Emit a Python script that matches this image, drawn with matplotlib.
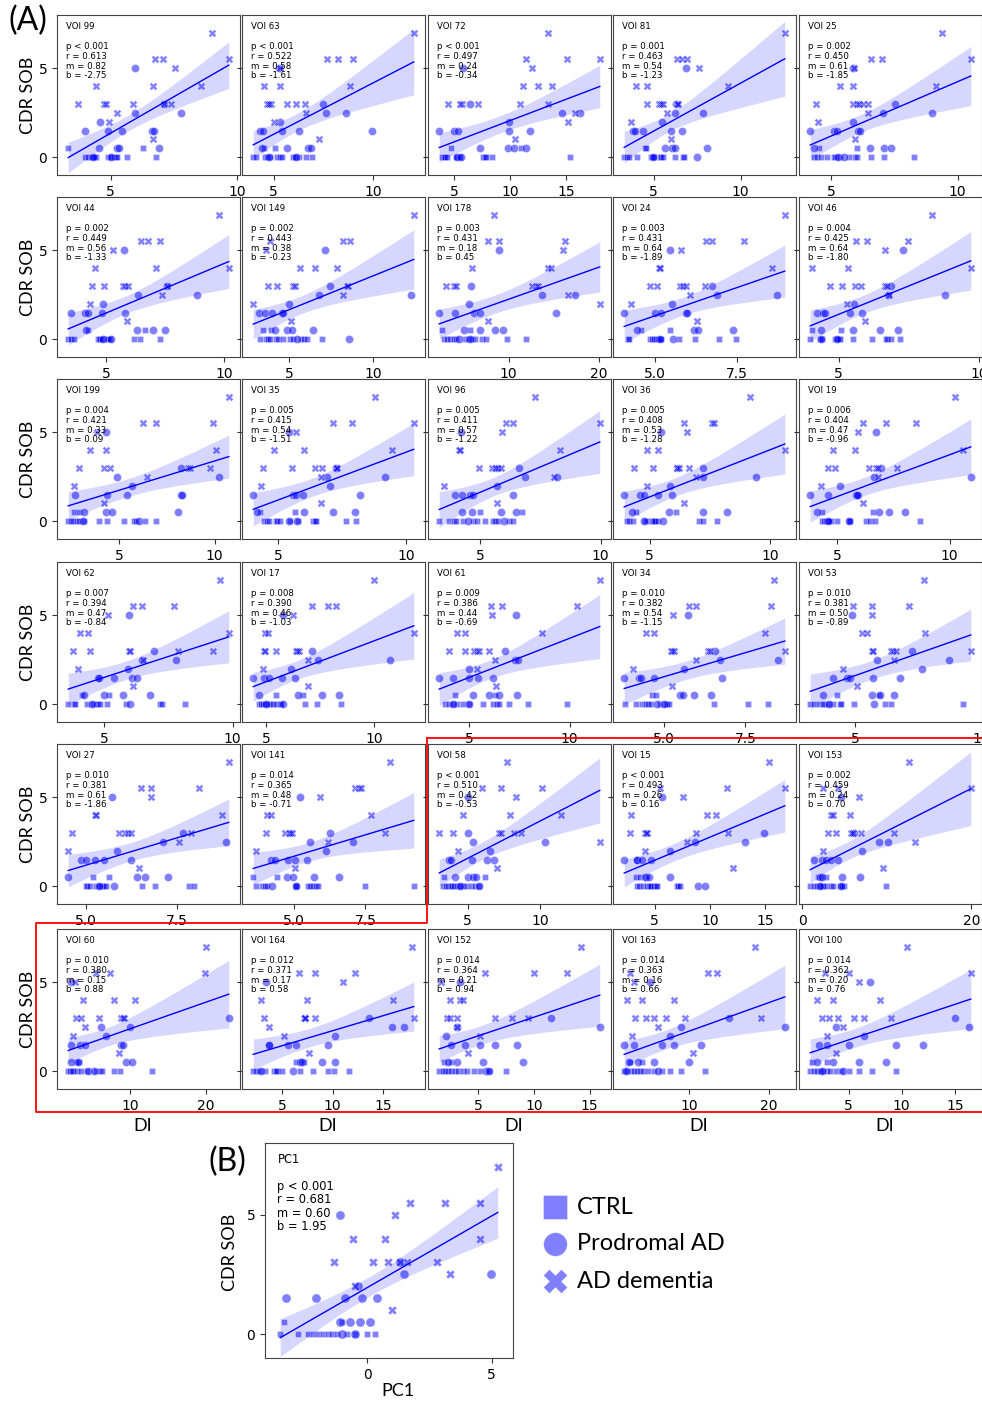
import numpy as np
import matplotlib.pyplot as plt
from matplotlib.ticker import MaxNLocator
from matplotlib.lines import Line2D

# CDR SOB of the subjects, same for every panel
y_ad = [7, 5.5, 5.5, 5.5, 5, 4, 4, 4, 3, 3, 3, 3, 3, 3, 2.5, 2, 1]
y_pro = [5, 3, 2.5, 2.5, 2, 1.5, 1.5, 1.5, 1.5, 1.5, 0.5, 0.5, 0.5, 0.5, 0, 0]
y_ctrl = [0.5, 0.5, 0, 0, 0, 0, 0, 0, 0, 0, 0, 0, 0, 0, 0]

voi = [99, 63, 72, 81, 25, 44, 149, 178, 24, 46, 199, 35, 96, 36, 19,
       62, 17, 61, 34, 53, 27, 141, 58, 15, 153, 60, 164, 152, 163, 100]
p_txt = ["< 0.001", "< 0.001", "< 0.001", "= 0.001", "= 0.002", "= 0.002", "= 0.002", "= 0.003",
         "= 0.003", "= 0.004", "= 0.004", "= 0.005", "= 0.005", "= 0.005", "= 0.006", "= 0.007",
         "= 0.008", "= 0.009", "= 0.010", "= 0.010", "= 0.010", "= 0.014", "< 0.001", "< 0.001",
         "= 0.002", "= 0.010", "= 0.012", "= 0.014", "= 0.014", "= 0.014"]
r_vals = [0.613, 0.522, 0.497, 0.463, 0.450, 0.449, 0.443, 0.431, 0.431, 0.425, 0.421, 0.415,
          0.411, 0.408, 0.404, 0.394, 0.390, 0.386, 0.382, 0.381, 0.381, 0.365, 0.510, 0.493,
          0.459, 0.380, 0.371, 0.364, 0.363, 0.362]
m_vals = [0.82, 0.58, 0.24, 0.54, 0.61, 0.56, 0.38, 0.18, 0.64, 0.64, 0.33, 0.54, 0.57, 0.53,
          0.47, 0.47, 0.46, 0.44, 0.54, 0.50, 0.61, 0.48, 0.42, 0.26, 0.24, 0.15, 0.17, 0.21,
          0.16, 0.20]
b_vals = [-2.75, -1.61, -0.34, -1.23, -1.85, -1.33, -0.23, 0.45, -1.89, -1.80, 0.09, -1.51,
          -1.22, -1.28, -0.96, -0.84, -1.03, -0.69, -1.15, -0.89, -1.86, -0.71, -0.53, 0.16,
          0.70, 0.88, 0.58, 0.94, 0.66, 0.76]

# DI of each VOI, per group (same subject order as the y lists)
x_ad = [
    [9.0, 6.77, 7.09, 9.67, 7.53, 4.43, 6.69, 8.57, 3.73, 4.73, 4.84, 5.87, 7.13, 7.37, 5.24, 4.95, 6.69],
    [12.02, 7.67, 8.23, 8.97, 5.33, 4.51, 5.3, 8.85, 4.67, 4.89, 5.69, 6.11, 6.56, 4.78, 6.64, 5.03, 7.26],
    [13.43, 11.45, 15.09, 18.0, 11.98, 11.19, 12.47, 13.78, 4.48, 5.73, 7.18, 10.87, 13.43, 5.5, 15.8, 15.17, 10.44],
    [12.53, 6.35, 6.63, 6.91, 7.62, 3.97, 4.63, 9.25, 4.63, 5.28, 5.41, 5.56, 6.35, 6.39, 5.79, 3.69, 6.01],
    [9.38, 6.55, 7.0, 10.52, 5.9, 5.32, 5.87, 9.16, 4.38, 5.87, 6.0, 6.1, 6.25, 6.45, 6.45, 4.47, 5.93],
    [9.77, 6.48, 6.78, 7.27, 5.3, 4.52, 7.1, 10.18, 4.41, 4.93, 5.72, 5.79, 5.93, 7.58, 7.38, 4.31, 5.9],
    [12.41, 3.86, 8.18, 8.63, 3.63, 5.65, 6.51, 7.84, 3.73, 4.25, 5.24, 5.35, 8.43, 8.5, 8.2, 2.84, 5.1],
    [8.37, 7.72, 8.9, 16.2, 15.98, 5.9, 14.35, 14.7, 3.04, 3.91, 4.2, 12.6, 13.04, 13.2, 16.6, 20.1, 7.72],
    [8.94, 6.56, 6.74, 7.7, 5.79, 5.12, 5.17, 8.56, 4.85, 5.07, 5.76, 5.85, 5.94, 6.51, 6.06, 4.28, 6.29],
    [8.33, 5.63, 6.01, 7.48, 6.64, 4.07, 5.33, 9.7, 4.7, 5.12, 5.6, 5.81, 6.64, 6.73, 6.79, 5.3, 5.93],
    [10.74, 6.28, 6.92, 9.91, 3.84, 3.49, 4.32, 10.09, 2.89, 4.23, 4.52, 8.6, 8.7, 9.74, 6.49, 2.67, 4.23],
    [8.79, 7.13, 7.9, 10.29, 5.69, 4.83, 6.02, 9.43, 4.41, 5.54, 6.43, 6.71, 7.28, 7.32, 6.68, 4.36, 6.68],
    [7.28, 6.08, 6.38, 9.96, 5.9, 4.1, 4.15, 8.3, 4.93, 5.47, 5.6, 5.67, 5.74, 5.88, 8.05, 3.5, 5.7],
    [9.16, 6.42, 7.59, 7.68, 6.53, 4.89, 5.34, 10.61, 4.35, 5.14, 6.12, 6.14, 6.2, 6.62, 6.93, 4.89, 6.43],
    [10.26, 6.16, 7.17, 8.52, 5.94, 4.81, 5.8, 10.58, 4.59, 4.88, 6.41, 6.74, 6.8, 7.68, 6.81, 4.28, 6.13],
    [9.52, 6.11, 6.49, 7.73, 5.13, 4.07, 4.36, 9.85, 3.79, 4.45, 5.96, 6.0, 7.86, 9.23, 6.53, 3.98, 6.11],
    [10.0, 7.13, 7.85, 8.23, 6.22, 4.92, 5.08, 11.83, 4.9, 4.95, 5.43, 6.37, 6.4, 6.52, 6.91, 4.82, 6.91],
    [11.5, 6.1, 6.64, 10.37, 6.15, 4.4, 4.76, 8.64, 3.98, 4.76, 5.25, 5.4, 5.5, 6.0, 6.3, 5.4, 6.34],
    [8.39, 5.77, 5.99, 8.29, 5.26, 4.43, 4.68, 8.1, 5.21, 5.25, 5.3, 6.34, 6.4, 8.71, 5.97, 4.05, 5.24],
    [7.73, 4.91, 5.67, 7.12, 5.67, 5.27, 5.47, 7.78, 5.67, 5.71, 6.41, 6.5, 6.61, 9.57, 6.55, 4.53, 5.07],
    [8.94, 6.52, 6.79, 8.12, 6.79, 5.25, 5.27, 8.75, 4.61, 5.91, 6.07, 6.15, 6.23, 7.89, 7.55, 4.5, 6.45],
    [8.36, 7.15, 7.27, 7.33, 5.89, 4.04, 4.18, 7.71, 4.01, 4.68, 4.8, 4.85, 4.91, 8.19, 6.18, 3.66, 5.02],
    [7.7, 6.0, 7.3, 10.1, 8.3, 4.66, 7.9, 11.4, 3.04, 4.0, 7.15, 7.3, 8.2, 8.7, 14.1, 4.3, 7.0],
    [15.39, 5.5, 11.53, 16.78, 7.52, 2.89, 9.75, 10.55, 2.74, 4.08, 4.2, 4.32, 8.71, 11.68, 7.94, 4.08, 12.09],
    [12.62, 2.5, 4.23, 19.92, 6.73, 3.46, 3.65, 5.69, 3.0, 3.96, 5.77, 5.96, 7.0, 10.88, 13.38, 2.42, 9.5],
    [20.0, 5.58, 7.45, 19.87, 2.77, 3.85, 7.97, 10.69, 2.9, 3.64, 5.89, 8.83, 9.13, 9.3, 4.07, 2.47, 8.61],
    [17.82, 6.67, 8.21, 12.18, 11.06, 2.92, 7.47, 15.9, 3.24, 7.15, 7.24, 7.3, 8.27, 17.98, 3.78, 5.22, 7.63],
    [14.2, 5.6, 13.0, 10.0, 1.7, 2.5, 3.4, 3.6, 2.2, 2.5, 3.05, 6.5, 8.0, 9.5, 3.1, 5.2, 4.1],
    [18.2, 2.5, 12.4, 13.5, 3.0, 2.2, 4.0, 8.0, 3.2, 4.5, 5.5, 7.0, 9.5, 19.0, 6.0, 2.8, 10.5],
    [10.5, 2.8, 5.0, 16.5, 6.0, 2.0, 3.5, 8.0, 2.5, 3.2, 4.0, 5.5, 6.5, 9.0, 4.5, 3.0, 3.8],
]
x_pro = [
    [5.96, 7.13, 5.96, 7.77, 4.6, 4.0, 4.89, 5.47, 6.63, 6.73, 4.53, 5.27, 5.33, 6.93, 4.3, 5.0],
    [5.25, 7.46, 7.62, 8.61, 5.33, 4.34, 4.48, 5.41, 6.28, 9.95, 4.43, 5.66, 6.72, 6.89, 4.75, 6.11],
    [5.81, 6.4, 14.6, 16.28, 9.88, 3.69, 5.0, 5.35, 9.88, 11.74, 7.33, 9.8, 10.38, 11.4, 5.29, 5.64],
    [6.87, 6.3, 6.25, 7.81, 5.47, 3.82, 3.95, 4.38, 6.01, 6.63, 5.66, 6.07, 6.25, 8.07, 4.94, 7.51],
    [5.87, 7.52, 7.03, 8.97, 5.87, 4.16, 5.09, 5.22, 6.06, 6.15, 4.32, 6.51, 7.09, 7.35, 5.26, 5.48],
    [5.76, 7.58, 6.34, 8.85, 4.89, 3.54, 4.13, 4.23, 4.82, 5.79, 4.17, 6.3, 6.99, 7.51, 4.89, 5.23],
    [7.12, 7.41, 6.76, 12.25, 4.96, 3.18, 3.53, 3.98, 4.57, 4.6, 4.12, 4.84, 5.16, 6.41, 5.45, 8.53],
    [8.9, 5.87, 13.7, 17.4, 5.55, 2.3, 4.0, 6.1, 6.85, 15.2, 5.0, 6.8, 8.5, 9.35, 4.45, 5.76],
    [5.47, 6.74, 6.88, 8.72, 5.52, 4.08, 5.02, 5.19, 5.96, 5.98, 4.47, 6.18, 6.31, 7.37, 5.15, 5.55],
    [7.29, 6.85, 6.76, 8.79, 5.56, 4.23, 4.44, 4.5, 5.42, 5.83, 4.38, 5.51, 6.46, 7.12, 4.38, 4.94],
    [4.32, 8.25, 4.91, 10.22, 5.68, 2.72, 4.4, 5.43, 8.25, 8.29, 3.15, 4.32, 4.66, 8.08, 3.12, 6.03],
    [5.45, 7.26, 6.91, 9.17, 7.03, 4.04, 5.57, 5.7, 5.98, 8.19, 4.17, 6.02, 7.16, 8.02, 5.45, 5.73],
    [4.19, 6.59, 6.87, 8.2, 5.7, 3.94, 4.26, 4.59, 4.7, 6.38, 4.26, 4.67, 5.85, 6.5, 4.5, 6.0],
    [5.46, 7.23, 7.21, 9.41, 5.84, 3.94, 4.58, 4.78, 5.34, 5.94, 4.25, 5.82, 7.22, 8.2, 4.78, 5.57],
    [6.71, 6.96, 6.62, 10.94, 5.12, 3.8, 4.59, 5.84, 5.91, 5.87, 4.09, 6.88, 7.32, 8.01, 4.61, 5.51],
    [5.96, 6.94, 6.47, 7.79, 5.94, 4.74, 4.81, 5.37, 6.08, 6.28, 4.2, 5.0, 5.75, 6.79, 4.52, 6.02],
    [5.76, 7.13, 7.41, 10.72, 6.14, 4.39, 4.89, 5.12, 5.73, 6.34, 4.65, 6.45, 7.56, 8.38, 5.0, 5.79],
    [7.33, 6.8, 7.3, 7.45, 5.0, 3.5, 4.17, 5.0, 5.45, 6.2, 5.2, 6.0, 6.5, 7.4, 4.2, 5.0],
    [5.74, 6.55, 6.71, 8.51, 5.61, 3.77, 4.22, 4.29, 4.7, 6.79, 5.5, 5.58, 5.93, 6.44, 4.78, 4.98],
    [4.89, 7.26, 5.87, 8.7, 7.66, 4.13, 4.7, 4.8, 5.7, 6.77, 3.72, 5.65, 5.97, 6.52, 3.99, 5.74],
    [5.7, 7.68, 7.12, 8.85, 5.84, 4.85, 5.0, 5.23, 5.5, 6.23, 4.5, 6.41, 6.61, 7.25, 5.36, 5.77],
    [5.2, 6.27, 5.54, 7.06, 6.12, 4.18, 4.33, 4.79, 5.02, 5.46, 4.74, 4.97, 5.71, 6.58, 4.22, 5.06],
    [5.0, 5.0, 5.4, 10.3, 6.55, 3.7, 3.85, 5.27, 6.3, 6.8, 4.1, 5.0, 5.4, 5.6, 4.5, 5.75],
    [5.65, 14.91, 8.62, 13.22, 6.39, 2.24, 3.37, 3.43, 3.87, 4.7, 4.08, 4.17, 4.47, 6.39, 8.92, 9.6],
    [4.54, 6.08, 9.04, 10.19, 7.04, 1.46, 2.31, 2.88, 3.46, 4.23, 2.1, 2.31, 4.69, 6.81, 2.1, 4.54],
    [2.25, 23.03, 6.23, 10.04, 6.88, 2.21, 3.42, 4.07, 8.83, 9.13, 2.25, 3.2, 9.48, 10.35, 4.5, 5.24],
    [3.4, 13.62, 15.8, 16.99, 10.19, 3.69, 3.75, 5.61, 6.41, 9.49, 6.83, 6.99, 8.91, 10.26, 2.98, 6.12],
    [3.4, 11.5, 3.05, 15.9, 2.1, 2.6, 3.8, 5.2, 6.5, 8.5, 2.3, 3.05, 5.45, 9.0, 5.7, 6.0],
    [5.0, 15.0, 9.0, 22.0, 7.5, 1.8, 3.0, 6.5, 8.0, 11.5, 2.4, 3.5, 5.5, 10.0, 2.0, 6.0],
    [7.0, 15.0, 3.8, 16.3, 6.5, 2.2, 3.0, 5.0, 9.5, 12.0, 2.0, 3.5, 6.0, 8.5, 2.5, 4.5],
]
x_ctrl = [
    [3.33, 6.27, 4.0, 4.13, 4.22, 4.31, 4.44, 4.89, 5.0, 5.13, 5.2, 5.27, 5.64, 6.8, 4.4],
    [4.54, 5.05, 3.98, 4.1, 4.59, 4.67, 4.8, 5.16, 5.3, 5.41, 5.98, 6.07, 6.28, 6.64, 6.93],
    [4.77, 10.96, 3.98, 4.13, 4.2, 4.36, 5.15, 5.29, 5.44, 5.58, 7.62, 7.76, 7.9, 8.4, 15.38],
    [4.53, 4.57, 3.31, 3.44, 3.58, 4.06, 4.85, 4.94, 5.04, 5.37, 5.41, 5.56, 6.2, 6.69, 6.76],
    [4.51, 6.0, 4.32, 4.44, 4.57, 4.83, 5.09, 5.16, 5.35, 5.71, 5.93, 6.0, 6.58, 7.09, 8.29],
    [4.23, 6.66, 3.41, 3.51, 3.65, 4.68, 4.72, 4.75, 4.82, 5.03, 5.1, 5.17, 6.2, 6.44, 7.28],
    [3.43, 3.92, 3.27, 3.63, 3.73, 3.86, 4.18, 4.31, 4.61, 5.04, 5.2, 5.69, 5.88, 6.02, 6.96],
    [2.6, 5.76, 2.8, 3.15, 3.5, 3.9, 4.2, 5.2, 5.5, 5.9, 6.3, 7.0, 7.5, 9.8, 11.96],
    [4.59, 5.47, 4.18, 4.23, 4.87, 4.92, 4.97, 5.05, 5.1, 5.15, 5.2, 5.74, 6.21, 6.95, 7.45],
    [4.07, 5.1, 3.99, 4.35, 4.4, 4.88, 4.94, 5.0, 5.04, 5.5, 6.19, 6.67, 6.73, 6.88, 7.17],
    [2.67, 2.89, 2.35, 2.5, 2.6, 2.8, 2.89, 3.15, 3.97, 4.35, 5.24, 5.8, 5.89, 6.35, 6.92],
    [4.3, 5.66, 4.45, 4.58, 4.64, 4.94, 4.96, 5.09, 5.47, 5.79, 6.36, 6.43, 6.49, 7.67, 8.06],
    [5.0, 6.75, 3.3, 3.7, 3.9, 4.0, 4.7, 4.85, 5.2, 5.55, 5.6, 5.74, 6.2, 6.35, 4.3],
    [4.44, 6.09, 4.07, 4.14, 4.31, 4.82, 4.89, 5.1, 5.14, 5.16, 5.23, 5.34, 7.04, 7.23, 7.79],
    [4.32, 6.59, 4.32, 4.42, 4.49, 4.57, 4.64, 4.71, 4.97, 5.51, 5.58, 6.3, 6.45, 6.67, 8.67],
    [4.13, 5.19, 3.6, 3.84, 3.88, 4.35, 4.58, 4.67, 4.77, 4.83, 5.09, 5.83, 7.19, 7.26, 8.15],
    [5.43, 6.71, 4.66, 4.77, 4.85, 4.92, 5.08, 5.18, 5.3, 5.46, 5.61, 5.69, 6.8, 7.36, 8.48],
    [4.27, 6.3, 3.8, 4.0, 4.2, 4.4, 4.66, 5.0, 5.7, 6.2, 6.36, 6.5, 7.0, 7.9, 9.86],
    [4.63, 4.76, 3.79, 4.12, 4.32, 4.43, 4.5, 4.6, 4.88, 5.06, 5.1, 5.16, 6.54, 7.58, 8.19],
    [4.29, 5.94, 3.23, 3.39, 3.59, 3.72, 3.79, 3.92, 4.13, 4.4, 4.46, 4.97, 6.18, 6.41, 9.27],
    [5.18, 5.64, 4.98, 5.02, 5.09, 5.27, 5.35, 5.41, 5.44, 5.5, 5.55, 6.55, 6.89, 7.85, 7.98],
    [3.56, 4.41, 3.66, 3.87, 3.99, 4.04, 5.06, 5.08, 5.48, 5.54, 5.66, 5.77, 5.83, 7.48, 9.2],
    [3.4, 6.2, 3.3, 3.5, 3.65, 3.85, 3.95, 4.05, 4.25, 4.45, 4.65, 4.85, 5.2, 5.5, 5.75],
    [3.28, 3.66, 3.43, 3.58, 3.96, 4.32, 4.47, 4.6, 4.67, 4.9, 5.12, 5.2, 6.99, 7.14, 7.28],
    [1.85, 2.77, 0.96, 1.35, 1.73, 2.12, 2.31, 2.5, 2.88, 3.38, 3.65, 4.42, 4.69, 5.0, 9.92],
    [2.9, 3.33, 1.9, 2.12, 2.34, 2.55, 2.99, 3.64, 4.37, 5.58, 6.02, 6.36, 7.97, 8.7, 12.94],
    [6.41, 7.21, 2.18, 2.44, 2.76, 3.3, 4.26, 4.42, 4.52, 5.0, 6.83, 8.04, 9.49, 10.13, 11.63],
    [1.9, 2.6, 1.5, 1.8, 2.0, 2.3, 2.6, 2.9, 3.2, 3.6, 4.0, 4.6, 5.2, 6.0, 7.5],
    [2.5, 4.0, 1.8, 2.2, 2.6, 3.0, 3.4, 3.8, 4.2, 4.8, 5.5, 6.5, 7.5, 9.0, 12.0],
    [1.6, 3.0, 1.4, 1.8, 2.0, 2.3, 2.6, 3.0, 3.3, 3.8, 4.3, 5.0, 6.0, 7.2, 9.5],
]

# panel (B): PC1
pc1_ad = [5.24, 1.72, 3.12, 4.52, 1.12, -0.56, 0.72, 4.52, -1.32, 0.24, 0.84, 1.32, 2.8, 1.6, 3.32, -0.48, 1.0]
pc1_pro = [-1.08, 1.32, 1.48, 4.96, -0.36, -3.28, -2.08, -0.88, -0.2, 0.4, -1.08, -0.68, -0.28, 0.12, -1.0, -0.48]
pc1_ctrl = [-3.36, -1.0, -3.5, -2.8, -2.4, -2.2, -2.0, -1.8, -1.6, -1.4, -1.2, -0.8, -0.5, 0.0, 0.3]
pc1_stats = ("< 0.001", 0.681, 0.60, 1.95)

W, H = 982, 1401
fig = plt.figure(figsize=(W / 100, H / 100), dpi=100)
BLUE = '#0000ff'
LABEL_FONT = ['Lato', 'DejaVu Sans']


def add_px_axes(left, top, width, height):
    return fig.add_axes([left / W, 1 - (top + height) / H, width / W, height / H])


def draw_panel(ax, xa, xp, xc, m, b, txt, txt_size, line_sp, ms):
    xs = np.concatenate([xa, xp, xc])
    ys = np.concatenate([y_ad, y_pro, y_ctrl])
    lo, hi = xs.min(), xs.max()
    grid = np.linspace(lo, hi, 100)
    fit = m * grid + b
    n = len(xs)
    resid = ys - (m * xs + b)
    s = np.sqrt((resid ** 2).sum() / (n - 2))
    sxx = ((xs - xs.mean()) ** 2).sum()
    half = 2.01 * s * np.sqrt(1.0 / n + (grid - xs.mean()) ** 2 / sxx)
    ax.fill_between(grid, fit - half, fit + half, color=BLUE, alpha=0.16, lw=0)
    kw = dict(color=BLUE, alpha=0.5, edgecolors='white', linewidths=0.4)
    ax.scatter(xc, y_ctrl, marker='s', s=19 * ms, **kw)
    ax.scatter(xp, y_pro, marker='o', s=34 * ms, **kw)
    ax.scatter(xa, y_ad, marker='X', s=32 * ms, **kw)
    ax.plot(grid, fit, color=BLUE, lw=1.0)
    pad = 0.07 * (hi - lo)
    ax.set_xlim(lo - pad, hi + pad)
    ax.set_ylim(-1, 8)
    ax.set_yticks([0, 5])
    ax.xaxis.set_major_locator(MaxNLocator(nbins=2, steps=[1, 2, 2.5, 5, 10]))
    ax.tick_params(labelsize=10, length=3.5, width=0.8, color='#333333')
    for sp in ax.spines.values():
        sp.set_color('#444444')
        sp.set_linewidth(0.8)
    ax.text(0.05, 0.955, txt, transform=ax.transAxes, ha='left', va='top',
            fontsize=txt_size, linespacing=line_sp)


col_left = [57, 242, 428, 613, 799]
row_top = [15, 197, 379, 562, 744, 929]
PW, PH = 183, 160

for i in range(30):
    r, c = divmod(i, 5)
    ax = add_px_axes(col_left[c], row_top[r], PW, PH)
    txt = (f"VOI {voi[i]}\n\np {p_txt[i]}\nr = {r_vals[i]:.3f}\n"
           f"m = {m_vals[i]:.2f}\nb = {b_vals[i]:.2f}")
    draw_panel(ax, x_ad[i], x_pro[i], x_ctrl[i], m_vals[i], b_vals[i], txt, 6.2, 1.12, 1.0)
    if c > 0:
        ax.tick_params(labelleft=False)
    if c == 0:
        fig.text(28 / W, 1 - (row_top[r] + 80) / H, 'CDR SOB', rotation=90,
                 ha='center', va='center', fontsize=13, family=LABEL_FONT)
    if r == 5:
        fig.text((col_left[c] + 86) / W, 1 - 1126 / H, 'DI', ha='center', va='center',
                 fontsize=13, family=LABEL_FONT)

# panel (B)
axb = add_px_axes(265, 1143, 248, 215)
txt_b = (f"PC1\n\np {pc1_stats[0]}\nr = {pc1_stats[1]:.3f}\n"
         f"m = {pc1_stats[2]:.2f}\nb = {pc1_stats[3]:.2f}")
draw_panel(axb, pc1_ad, pc1_pro, pc1_ctrl, pc1_stats[2], pc1_stats[3], txt_b, 8.3, 1.05, 1.25)
fig.text(230 / W, 1 - 1252 / H, 'CDR SOB', rotation=90, ha='center', va='center',
         fontsize=13, family=LABEL_FONT)
fig.text(398 / W, 1 - 1391 / H, 'PC1', ha='center', va='center', fontsize=13, family=LABEL_FONT)

# panel letters
fig.text(28 / W, 1 - 21 / H, '(A)', ha='center', va='center', fontsize=23, family=LABEL_FONT)
fig.text(227 / W, 1 - 1162 / H, '(B)', ha='center', va='center', fontsize=23, family=LABEL_FONT)

# legend
leg_names = ['CTRL', 'Prodromal AD', 'AD dementia']
leg_markers = ['s', 'o', 'X']
leg_y = [1207, 1244, 1281]
for name, mk, yy in zip(leg_names, leg_markers, leg_y):
    fig.add_artist(Line2D([555 / W], [1 - yy / H], marker=mk, markersize=17, color=BLUE,
                          alpha=0.5, markeredgecolor='white', markeredgewidth=0.5,
                          linestyle='none', transform=fig.transFigure))
    fig.text(577 / W, 1 - yy / H, name, ha='left', va='center', fontsize=17, family=LABEL_FONT)

# red outline round the selected panels (right side falls on the image edge)
red_x = [427, 983, 983, 36, 36, 427, 427]
red_y = [738, 738, 1112, 1112, 923, 923, 738]
fig.add_artist(Line2D([v / W for v in red_x], [1 - v / H for v in red_y], color='red',
                      lw=1.3, transform=fig.transFigure))

fig.savefig('out.png', dpi=100)
